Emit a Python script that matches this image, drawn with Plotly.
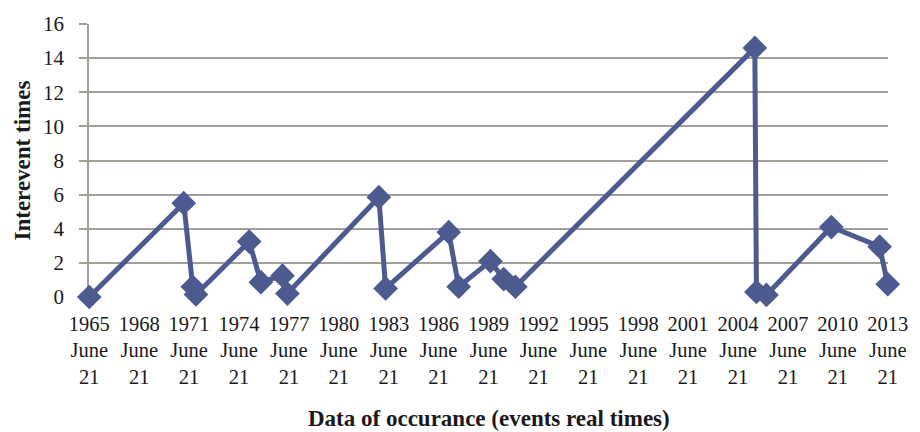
import plotly.graph_objects as go

# Event dates and interevent times
dates = [
    "1965-06-21", "1971-02-24", "1971-09-10", "1971-11-20",
    "1975-02-01", "1975-10-15", "1977-02-01", "1977-05-20",
    "1982-11-17", "1983-04-15", "1987-01-30", "1987-09-05",
    "1989-08-03", "1990-05-20", "1991-02-01", "2005-06-25",
    "2005-07-30", "2006-03-07", "2010-01-30", "2012-12-25",
    "2013-06-21",
]
interevent = [
    0.0, 5.5, 0.6, 0.15,
    3.25, 0.87, 1.25, 0.2,
    5.85, 0.5, 3.8, 0.6,
    2.1, 1.05, 0.6, 14.6,
    0.3, 0.12, 4.1, 2.95,
    0.75,
]
tick_years = list(range(1965, 2014, 3))
tick_vals = [f"{y}-06-21" for y in tick_years]
tick_text = [f"{y}<br>June<br>21" for y in tick_years]
y_ticks = list(range(0, 17, 2))

FONT = "Liberation Serif, Times New Roman, serif"
LINE = "#4d5a8f"
GRID = "#a29e98"

fig = go.Figure()
fig.add_trace(go.Scatter(
    x=dates, y=interevent, mode="lines+markers",
    line=dict(color=LINE, width=5),
    marker=dict(symbol="diamond", size=19, color=LINE, line=dict(width=0)),
    cliponaxis=False, showlegend=False,
))

fig.update_layout(
    width=920, height=432,
    margin=dict(l=89, r=32, t=16, b=135),
    plot_bgcolor="white", paper_bgcolor="white",
    font=dict(family=FONT, size=21, color="#1a1a1a"),
    xaxis=dict(
        type="date",
        range=["1965-06-15", "2013-06-27"],
        tickvals=tick_vals, ticktext=tick_text,
        showgrid=False, zeroline=False,
        showline=False, ticks="",
        tickangle=0, ticklabelstandoff=12,
        tickfont=dict(family=FONT, size=20.5, color="#1a1a1a"),
    ),
    yaxis=dict(
        range=[0, 16], tickvals=y_ticks,
        showgrid=True, gridcolor=GRID, gridwidth=1.5,
        zeroline=False, layer="below traces",
        showline=True, linecolor=GRID, linewidth=1.5,
        ticks="outside", ticklen=8, tickcolor=GRID, tickwidth=1.5,
        ticklabelstandoff=11,
        tickfont=dict(family=FONT, size=21, color="#1a1a1a"),
    ),
    annotations=[
        dict(text="<b>Interevent times</b>", textangle=-90,
             xref="paper", yref="paper", x=0, y=0.5,
             xshift=-67, xanchor="center", yanchor="middle",
             showarrow=False, font=dict(family=FONT, size=23, color="#1a1a1a")),
        dict(text="<b>Data of occurance (events real times)</b>",
             xref="paper", yref="paper", x=0.5, y=0,
             yshift=-121, xanchor="center", yanchor="middle",
             showarrow=False, font=dict(family=FONT, size=23, color="#1a1a1a")),
    ],
)

fig.write_html("out.html")
